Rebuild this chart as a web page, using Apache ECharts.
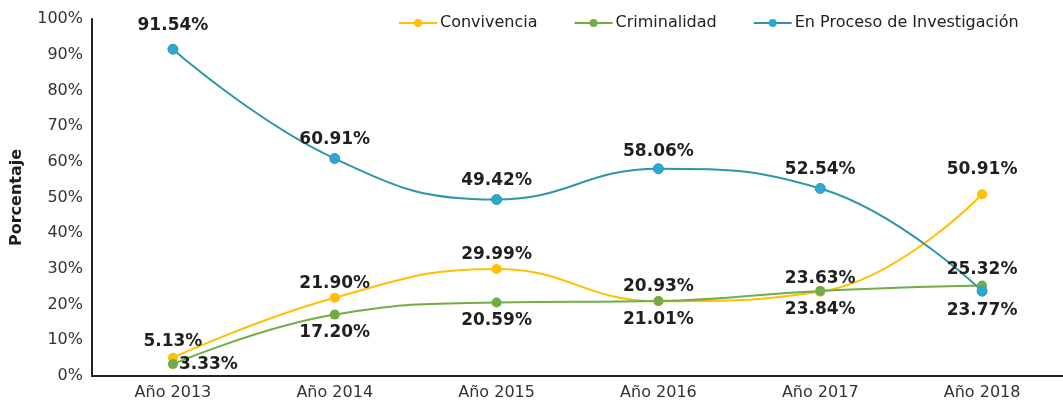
<!DOCTYPE html>
<html>
<head>
<meta charset="utf-8">
<script src="https://cdn.jsdelivr.net/npm/echarts@6/dist/echarts.min.js"></script>
<style>
  html, body { margin: 0; padding: 0; background: #fff; }
  #chart { width: 1063px; height: 413px; }
</style>
</head>
<body>
<div id="chart"></div>
<script>
// datos
const years = ["Año 2013", "Año 2014", "Año 2015", "Año 2016", "Año 2017", "Año 2018"];
const convivencia = [5.13, 21.90, 29.99, 20.93, 23.63, 50.91];
const criminalidad = [3.33, 17.20, 20.59, 21.01, 23.84, 25.32];
const investigacion = [91.54, 60.91, 49.42, 58.06, 52.54, 23.77];
const yTicks = [0, 10, 20, 30, 40, 50, 60, 70, 80, 90, 100];

const chart = echarts.init(document.getElementById("chart"));

const labelFont = {
  fontFamily: "DejaVu Sans",
  fontWeight: "bold",
  fontSize: 17,
  color: "#1f1f1f",
  formatter: p => p.value.toFixed(2) + "%"
};

function withLabels(values, positions, distances) {
  return values.map((v, i) => ({
    value: v,
    label: { position: positions[i], distance: distances[i] }
  }));
}

const option = {
  animation: false,
  legend: {
    left: 393,
    top: 10,
    itemWidth: 38,
    itemHeight: 10,
    itemGap: 36,
    itemStyle: { borderWidth: 0 },
    textStyle: { fontFamily: "DejaVu Sans", fontSize: 16, color: "#222", padding: [0, 0, 0, -2] },
    data: ["Convivencia", "Criminalidad", "En Proceso de Investigación"]
  },
  grid: { left: 92, top: 19, width: 984, height: 357 },
  xAxis: {
    type: "category",
    data: years,
    boundaryGap: true,
    axisLine: { lineStyle: { color: "#222", width: 2 } },
    axisTick: { show: false },
    axisLabel: { fontFamily: "DejaVu Sans", fontSize: 16, color: "#333", margin: 9 }
  },
  yAxis: {
    type: "value",
    min: yTicks[0],
    max: yTicks[yTicks.length - 1],
    interval: 10,
    name: "Porcentaje",
    nameLocation: "middle",
    nameGap: 67,
    nameTextStyle: { fontFamily: "DejaVu Sans", fontWeight: "bold", fontSize: 16, color: "#1f1f1f" },
    axisLine: { show: true, lineStyle: { color: "#222", width: 2 } },
    axisTick: { show: false },
    splitLine: { show: false },
    axisLabel: {
      fontFamily: "DejaVu Sans", fontSize: 16, color: "#333", margin: 9,
      formatter: "{value}%"
    }
  },
  series: [
    {
      name: "Convivencia",
      type: "line",
      smooth: 0.45,
      symbol: "circle",
      symbolSize: 10,
      lineStyle: { color: "#FFC000", width: 2 },
      itemStyle: { color: "#FFC000" },
      label: Object.assign({ show: true }, labelFont),
      data: withLabels(convivencia,
        ["top", "top", "top", "top", "top", "top"],
        [3, 1, 1, 1, 0, 11])
    },
    {
      name: "Criminalidad",
      type: "line",
      smooth: 0.45,
      symbol: "circle",
      symbolSize: 10,
      lineStyle: { color: "#70AD47", width: 2 },
      itemStyle: { color: "#70AD47" },
      label: Object.assign({ show: true }, labelFont),
      data: withLabels(criminalidad,
        ["right", "bottom", "bottom", "bottom", "bottom", "top"],
        [1, 4, 5, 5, 5, 3])
    },
    {
      name: "En Proceso de Investigación",
      type: "line",
      smooth: 0.45,
      symbol: "circle",
      symbolSize: 10,
      lineStyle: { color: "#2E96A8", width: 2 },
      itemStyle: { color: "#2AA8D6", borderColor: "#2E96A8", borderWidth: 1 },
      label: Object.assign({ show: true }, labelFont),
      data: withLabels(investigacion,
        ["top", "top", "top", "top", "top", "bottom"],
        [10, 5, 5, 3, 5, 5])
    }
  ]
};

chart.setOption(option);
</script>
</body>
</html>
